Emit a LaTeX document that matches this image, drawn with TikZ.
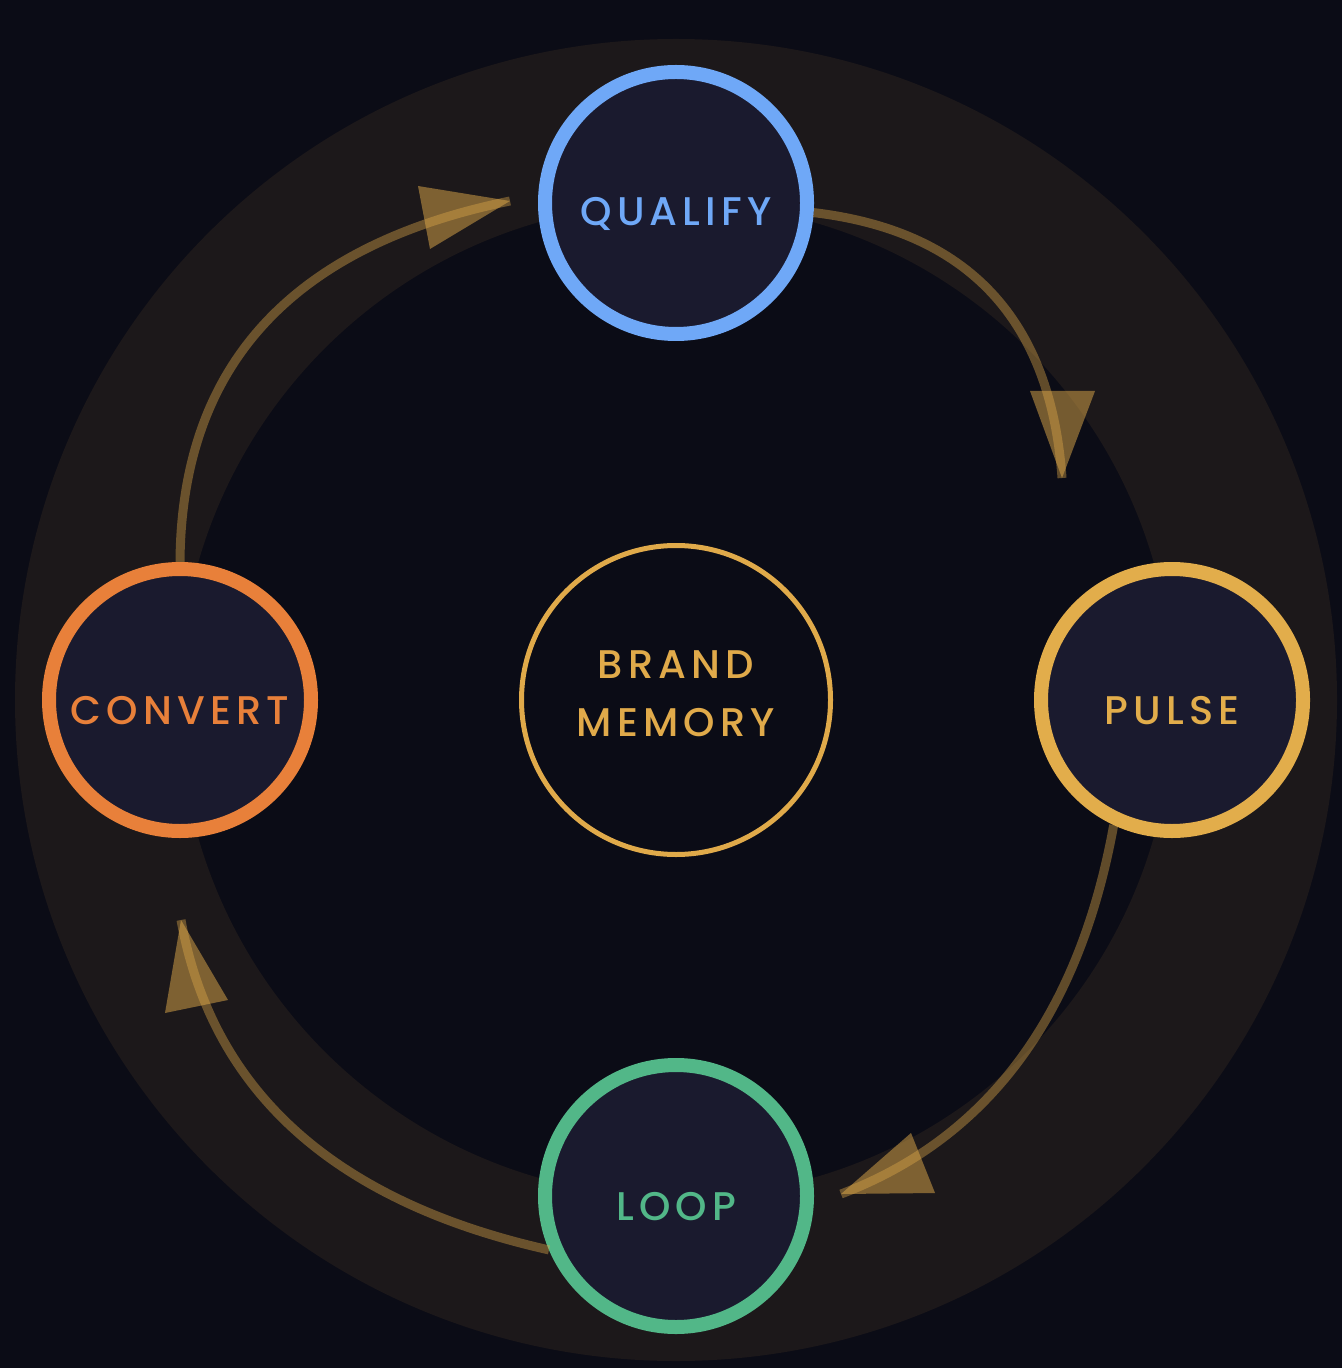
\documentclass[tikz,border=0pt]{standalone}
\usepackage{fontspec}
\newfontfamily\labfont[LetterSpace=13]{Poppins Medium}
\usetikzlibrary{calc}
\definecolor{bgcol}{HTML}{0B0C16}
\definecolor{ringcol}{HTML}{1C181A}
\definecolor{nodefill}{HTML}{1A1A2E}
\definecolor{qblue}{HTML}{6FA8F7}
\definecolor{pyellow}{HTML}{E2AD4B}
\definecolor{lgreen}{HTML}{52B788}
\definecolor{corange}{HTML}{E8803A}
\definecolor{gold}{HTML}{E0AA4A}
\tikzset{
  stage/.style={circle, minimum size=131pt, inner sep=0pt, line width=7pt, fill=nodefill, draw=#1},
  stagetext/.style={text=#1, yshift=-5.5pt, inner sep=0pt, font=\labfont\fontsize{20pt}{24pt}\selectfont},
  core/.style={circle, minimum size=154.5pt, inner sep=0pt, line width=2.5pt, fill=bgcol, draw=gold},
  coretext/.style={text=gold, align=center, yshift=3pt, inner sep=0pt, font=\labfont\fontsize{20pt}{29pt}\selectfont},
  flow/.style={draw=gold, draw opacity=0.4, line width=4.5pt},
  head/.style={fill=gold, fill opacity=0.5},
}
\begin{document}
\begin{tikzpicture}[x=0.5pt, y=-0.5pt]
\fill[bgcol] (0,0) rectangle (1342,1368);
\useasboundingbox (0,0) rectangle (1342,1368);
\draw[ringcol, line width=82pt] (676,700) circle[radius=289.5pt];

\node[stage=qblue, label={[stagetext=qblue]center:QUALIFY}] (qual) at (676,203) {};
\node[stage=pyellow, label={[stagetext=pyellow]center:PULSE}] (pulse) at (1172,700) {};
\node[stage=lgreen, label={[stagetext=lgreen]center:LOOP}] (loop) at (676,1196) {};
\node[stage=corange, label={[stagetext=corange]center:CONVERT}] (conv) at (180,700) {};
\node[core, label={[coretext]center:BRAND\\MEMORY}] (brand) at (676,700) {};

\coordinate (t1) at (510,201);
\coordinate (t2) at (1062,478);
\coordinate (t3) at (841,1194);
\coordinate (t4) at (181,920);
\coordinate (c1) at (182,268);
\coordinate (c2) at (1045,240);
\coordinate (c3) at (1062,1110);
\coordinate (c4) at (228,1178);

\draw[flow] (conv.north) .. controls ($(conv.north)!0.6667!(c1)$) and ($(t1)!0.6667!(c1)$) .. (t1);
\draw[flow] (qual.-4) .. controls ($(qual.-4)!0.6667!(c2)$) and ($(t2)!0.6667!(c2)$) .. (t2);
\draw[flow] (pulse.-115) .. controls ($(pulse.-115)!0.6667!(c3)$) and ($(t3)!0.6667!(c3)$) .. (t3);
\draw[flow] (loop.203) .. controls ($(loop.203)!0.6667!(c4)$) and ($(t4)!0.6667!(c4)$) .. (t4);

\fill[head] (t1) -- (418,186) -- (430,249) -- cycle;
\fill[head] (t2) -- (1030,391) -- (1095,391) -- cycle;
\fill[head] (t3) -- (911,1133) -- (935,1193) -- cycle;
\fill[head] (t4) -- (165,1013) -- (228,1000) -- cycle;
\end{tikzpicture}
\end{document}
